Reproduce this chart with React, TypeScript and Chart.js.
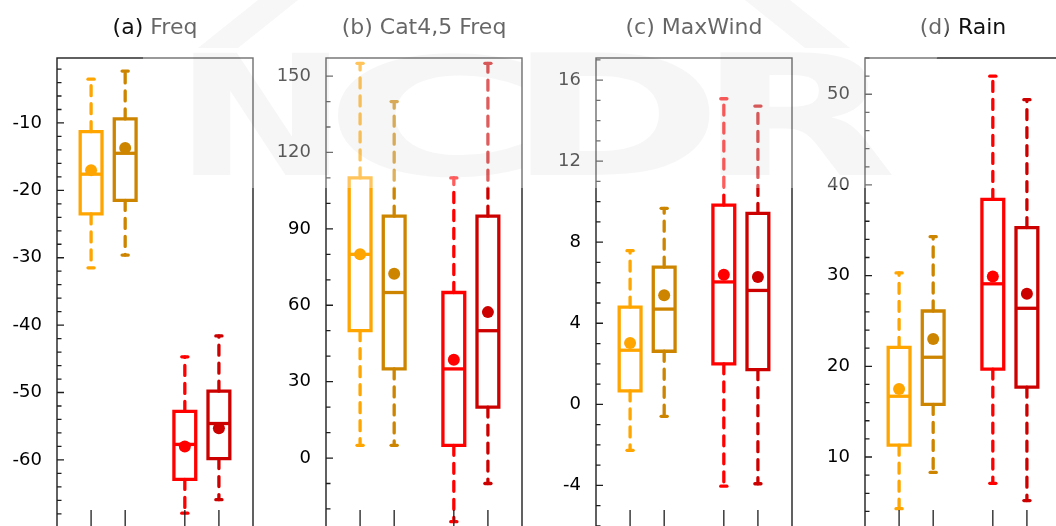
import { useEffect, useRef } from 'react';
import { Chart, registerables } from 'chart.js';

Chart.register(...registerables);

// Four groups per panel, drawn left to right
const boxColors = ['#FFA500', '#CD8500', '#FF0000', '#CD0000'];
const boxPositions = [1, 2, 3.75, 4.75];

// (a) Freq
const freqMax = [-3.5, -2.3, -44.7, -41.6];
const freqQ3 = [-11.3, -9.4, -52.8, -49.8];
const freqMedian = [-17.6, -14.5, -57.7, -54.6];
const freqQ1 = [-23.5, -21.5, -62.9, -59.8];
const freqMin = [-31.5, -29.6, -67.9, -65.9];
const freqMean = [-17.0, -13.7, -58.0, -55.3];
const freqTicks = [-60, -50, -40, -30, -20, -10];

// (b) Cat4,5 Freq
const catMax = [155, 140, 110, 155];
const catQ3 = [110, 95, 65, 95];
const catMedian = [80, 65, 35, 50];
const catQ1 = [50, 35, 5, 20];
const catMin = [5, 5, -25, -10];
const catMean = [80, 72.4, 38.6, 57.3];
const catTicks = [0, 30, 60, 90, 120, 150];

// (c) MaxWind
const windMax = [7.58, 9.67, 15.08, 14.72];
const windQ3 = [4.8, 6.77, 9.83, 9.42];
const windMedian = [2.67, 4.7, 6.04, 5.62];
const windQ1 = [0.66, 2.62, 2.0, 1.71];
const windMin = [-2.27, -0.59, -4.04, -3.92];
const windMean = [3.03, 5.38, 6.4, 6.28];
const windTicks = [-4, 0, 4, 8, 12, 16];

// (d) Rain
const rainMax = [30.3, 34.3, 52.0, 49.4];
const rainQ3 = [22.1, 26.1, 38.4, 35.3];
const rainMedian = [16.7, 21.0, 29.1, 26.4];
const rainQ1 = [11.3, 15.8, 19.7, 17.7];
const rainMin = [4.3, 8.3, 7.1, 5.2];
const rainMean = [17.5, 23.0, 29.9, 28.0];
const rainTicks = [10, 20, 30, 40, 50];

type Panel = {
  title: string;
  max: number[];
  q3: number[];
  median: number[];
  q1: number[];
  min: number[];
  mean: number[];
  ticks: number[];
  yMin: number;
  yMax: number;
  minorStep: number;
};

const panels: Panel[] = [
  { title: '(a) Freq', max: freqMax, q3: freqQ3, median: freqMedian, q1: freqQ1, min: freqMin, mean: freqMean, ticks: freqTicks, yMin: -70.7, yMax: -0.36, minorStep: 2 },
  { title: '(b) Cat4,5 Freq', max: catMax, q3: catQ3, median: catMedian, q1: catQ1, min: catMin, mean: catMean, ticks: catTicks, yMin: -29.05, yMax: 157.1, minorStep: 10 },
  { title: '(c) MaxWind', max: windMax, q3: windQ3, median: windMedian, q1: windQ1, min: windMin, mean: windMean, ticks: windTicks, yMin: -6.3, yMax: 17.09, minorStep: 1 },
  { title: '(d) Rain', max: rainMax, q3: rainQ3, median: rainMedian, q1: rainQ1, min: rainMin, mean: rainMean, ticks: rainTicks, yMin: 1.73, yMax: 54.0, minorStep: 2 },
];

const PANEL_W = 269;
const PANEL_H = 560;
const BOX_HALF = 0.32;
const CAP_HALF = 0.09;
const LINE_W = 3.3;

function boxDatasets(p: Panel) {
  const sets: any[] = [];
  boxPositions.forEach((x, i) => {
    const c = boxColors[i];
    const base = { borderColor: c, borderWidth: LINE_W, pointRadius: 0, showLine: true, fill: false };
    // dashed whiskers
    sets.push({ ...base, order: 2, borderDash: [10, 8], borderCapStyle: 'round', data: [{ x, y: p.q3[i] }, { x, y: p.max[i] }] });
    sets.push({ ...base, order: 2, borderDash: [10, 8], borderCapStyle: 'round', data: [{ x, y: p.q1[i] }, { x, y: p.min[i] }] });
    // staples
    sets.push({ ...base, order: 2, borderCapStyle: 'round', data: [{ x: x - CAP_HALF, y: p.max[i] }, { x: x + CAP_HALF, y: p.max[i] }] });
    sets.push({ ...base, order: 2, borderCapStyle: 'round', data: [{ x: x - CAP_HALF, y: p.min[i] }, { x: x + CAP_HALF, y: p.min[i] }] });
    // box
    sets.push({
      ...base, order: 1, borderCapStyle: 'square', borderJoinStyle: 'miter',
      data: [
        { x: x - BOX_HALF, y: p.q1[i] }, { x: x + BOX_HALF, y: p.q1[i] }, { x: x + BOX_HALF, y: p.q3[i] },
        { x: x - BOX_HALF, y: p.q3[i] }, { x: x - BOX_HALF, y: p.q1[i] },
      ],
    });
    // median
    sets.push({ ...base, order: 1, borderCapStyle: 'butt', data: [{ x: x - BOX_HALF, y: p.median[i] }, { x: x + BOX_HALF, y: p.median[i] }] });
  });
  // means
  sets.push({
    order: 0,
    showLine: false,
    data: boxPositions.map((x, i) => ({ x, y: p.mean[i] })),
    pointRadius: 6,
    pointHoverRadius: 6,
    pointBorderWidth: 0,
    pointBackgroundColor: boxColors,
    pointBorderColor: boxColors,
  });
  return sets;
}

// Frame around the plot plus inward ticks on the left and bottom edges
const frameTicks = {
  id: 'frameTicks',
  afterDatasetsDraw(chart: any, _args: any, opts: any) {
    const { ctx, chartArea: a, scales } = chart;
    const y = scales.y;
    const x = scales.x;
    ctx.save();
    ctx.strokeStyle = '#1e1e1e';
    ctx.lineWidth = 1.4;
    ctx.strokeRect(a.left, a.top, a.right - a.left, a.bottom - a.top);
    ctx.lineWidth = 1.3;
    ctx.beginPath();
    const step = opts.minorStep;
    const k0 = Math.ceil(y.min / step);
    const k1 = Math.floor(y.max / step);
    for (let k = k0; k <= k1; k++) {
      const v = k * step;
      const major = opts.majors.some((m: number) => Math.abs(m - v) < 1e-9);
      const py = y.getPixelForValue(v);
      ctx.moveTo(a.left, py);
      ctx.lineTo(a.left + (major ? 7 : 4.5), py);
    }
    for (const p of opts.xTicks) {
      const px = x.getPixelForValue(p);
      ctx.moveTo(px, a.bottom);
      ctx.lineTo(px, a.bottom - 22);
    }
    ctx.stroke();
    ctx.restore();
  },
};

function BoxPanel({ panel, left }: { panel: Panel; left: number }) {
  const ref = useRef<HTMLCanvasElement>(null);
  useEffect(() => {
    const chart = new Chart(ref.current as HTMLCanvasElement, {
      type: 'scatter',
      data: { datasets: boxDatasets(panel) },
      plugins: [frameTicks],
      options: {
        animation: false,
        responsive: false,
        maintainAspectRatio: false,
        events: [],
        layout: { padding: { left: 0, right: PANEL_W - 57 - 196, top: 0, bottom: 28 } },
        plugins: {
          legend: { display: false },
          tooltip: { enabled: false },
          title: {
            display: true,
            text: panel.title,
            fullSize: false,
            color: '#111',
            font: { family: 'DejaVu Sans', size: 22, weight: 'normal', lineHeight: 1.2 },
            padding: { top: 15, bottom: 16.6 },
          },
          frameTicks: { minorStep: panel.minorStep, majors: panel.ticks, xTicks: boxPositions },
        } as any,
        scales: {
          x: { type: 'linear', min: 0, max: 5.75, display: false },
          y: {
            type: 'linear',
            min: panel.yMin,
            max: panel.yMax,
            grid: { display: false, drawTicks: false },
            border: { display: false },
            afterFit: (s: any) => { s.width = 57; },
            afterBuildTicks: (s: any) => { s.ticks = panel.ticks.map((v) => ({ value: v })); },
            ticks: {
              padding: 15,
              color: '#000',
              font: { family: 'DejaVu Sans', size: 18 },
            },
          },
        },
      },
    });
    return () => chart.destroy();
  }, [panel]);
  return (
    <canvas
      ref={ref}
      width={PANEL_W}
      height={PANEL_H}
      style={{ position: 'absolute', left, top: 0, width: PANEL_W, height: PANEL_H, display: 'block' }}
    />
  );
}

// Faint "NCDR" logo overlay
const logoLetters: [string, number, number][] = [
  ['N', 193, 330],
  ['C', 335, 522],
  ['D', 530, 710],
  ['R', 720, 892],
];

function Watermark() {
  const ref = useRef<HTMLCanvasElement>(null);
  useEffect(() => {
    const ctx = (ref.current as HTMLCanvasElement).getContext('2d')!;
    ctx.clearRect(0, 0, 1056, 526);
    // translucent plate
    ctx.fillStyle = 'rgba(255,255,255,0.36)';
    ctx.beginPath();
    ctx.moveTo(143, 0);
    ctx.lineTo(960, 0);
    ctx.lineTo(937, 58);
    ctx.lineTo(885, 188);
    ctx.lineTo(143, 188);
    ctx.closePath();
    ctx.fill();
    // roof strokes
    ctx.fillStyle = 'rgba(0,0,0,0.03)';
    ctx.beginPath();
    ctx.moveTo(198, 48); ctx.lineTo(238, 48); ctx.lineTo(298, 0); ctx.lineTo(258, 0); ctx.closePath();
    ctx.moveTo(745, 0); ctx.lineTo(790, 0); ctx.lineTo(850, 48); ctx.lineTo(805, 48); ctx.closePath();
    ctx.fill();
    // letters
    ctx.fillStyle = 'rgba(0,0,0,0.035)';
    ctx.font = 'bold 100px "DejaVu Sans"';
    ctx.textBaseline = 'alphabetic';
    for (const [ch, x0, x1] of logoLetters) {
      const m = ctx.measureText(ch);
      const w = m.actualBoundingBoxRight + m.actualBoundingBoxLeft;
      const h = m.actualBoundingBoxAscent;
      ctx.save();
      ctx.translate(x0, 175);
      ctx.scale((x1 - x0) / w, 123 / h);
      ctx.fillText(ch, m.actualBoundingBoxLeft, 0);
      ctx.restore();
    }
  }, []);
  return (
    <canvas
      ref={ref}
      width={1056}
      height={526}
      style={{ position: 'absolute', left: 0, top: 0, width: 1056, height: 526, pointerEvents: 'none' }}
    />
  );
}

export default function App() {
  return (
    <div style={{ position: 'fixed', left: 0, top: 0, width: 1056, height: 526, overflow: 'hidden', background: '#fff' }}>
      {panels.map((p, i) => (
        <BoxPanel key={p.title} panel={p} left={i * PANEL_W + (i >= 2 ? 1 : 0)} />
      ))}
      <Watermark />
    </div>
  );
}
